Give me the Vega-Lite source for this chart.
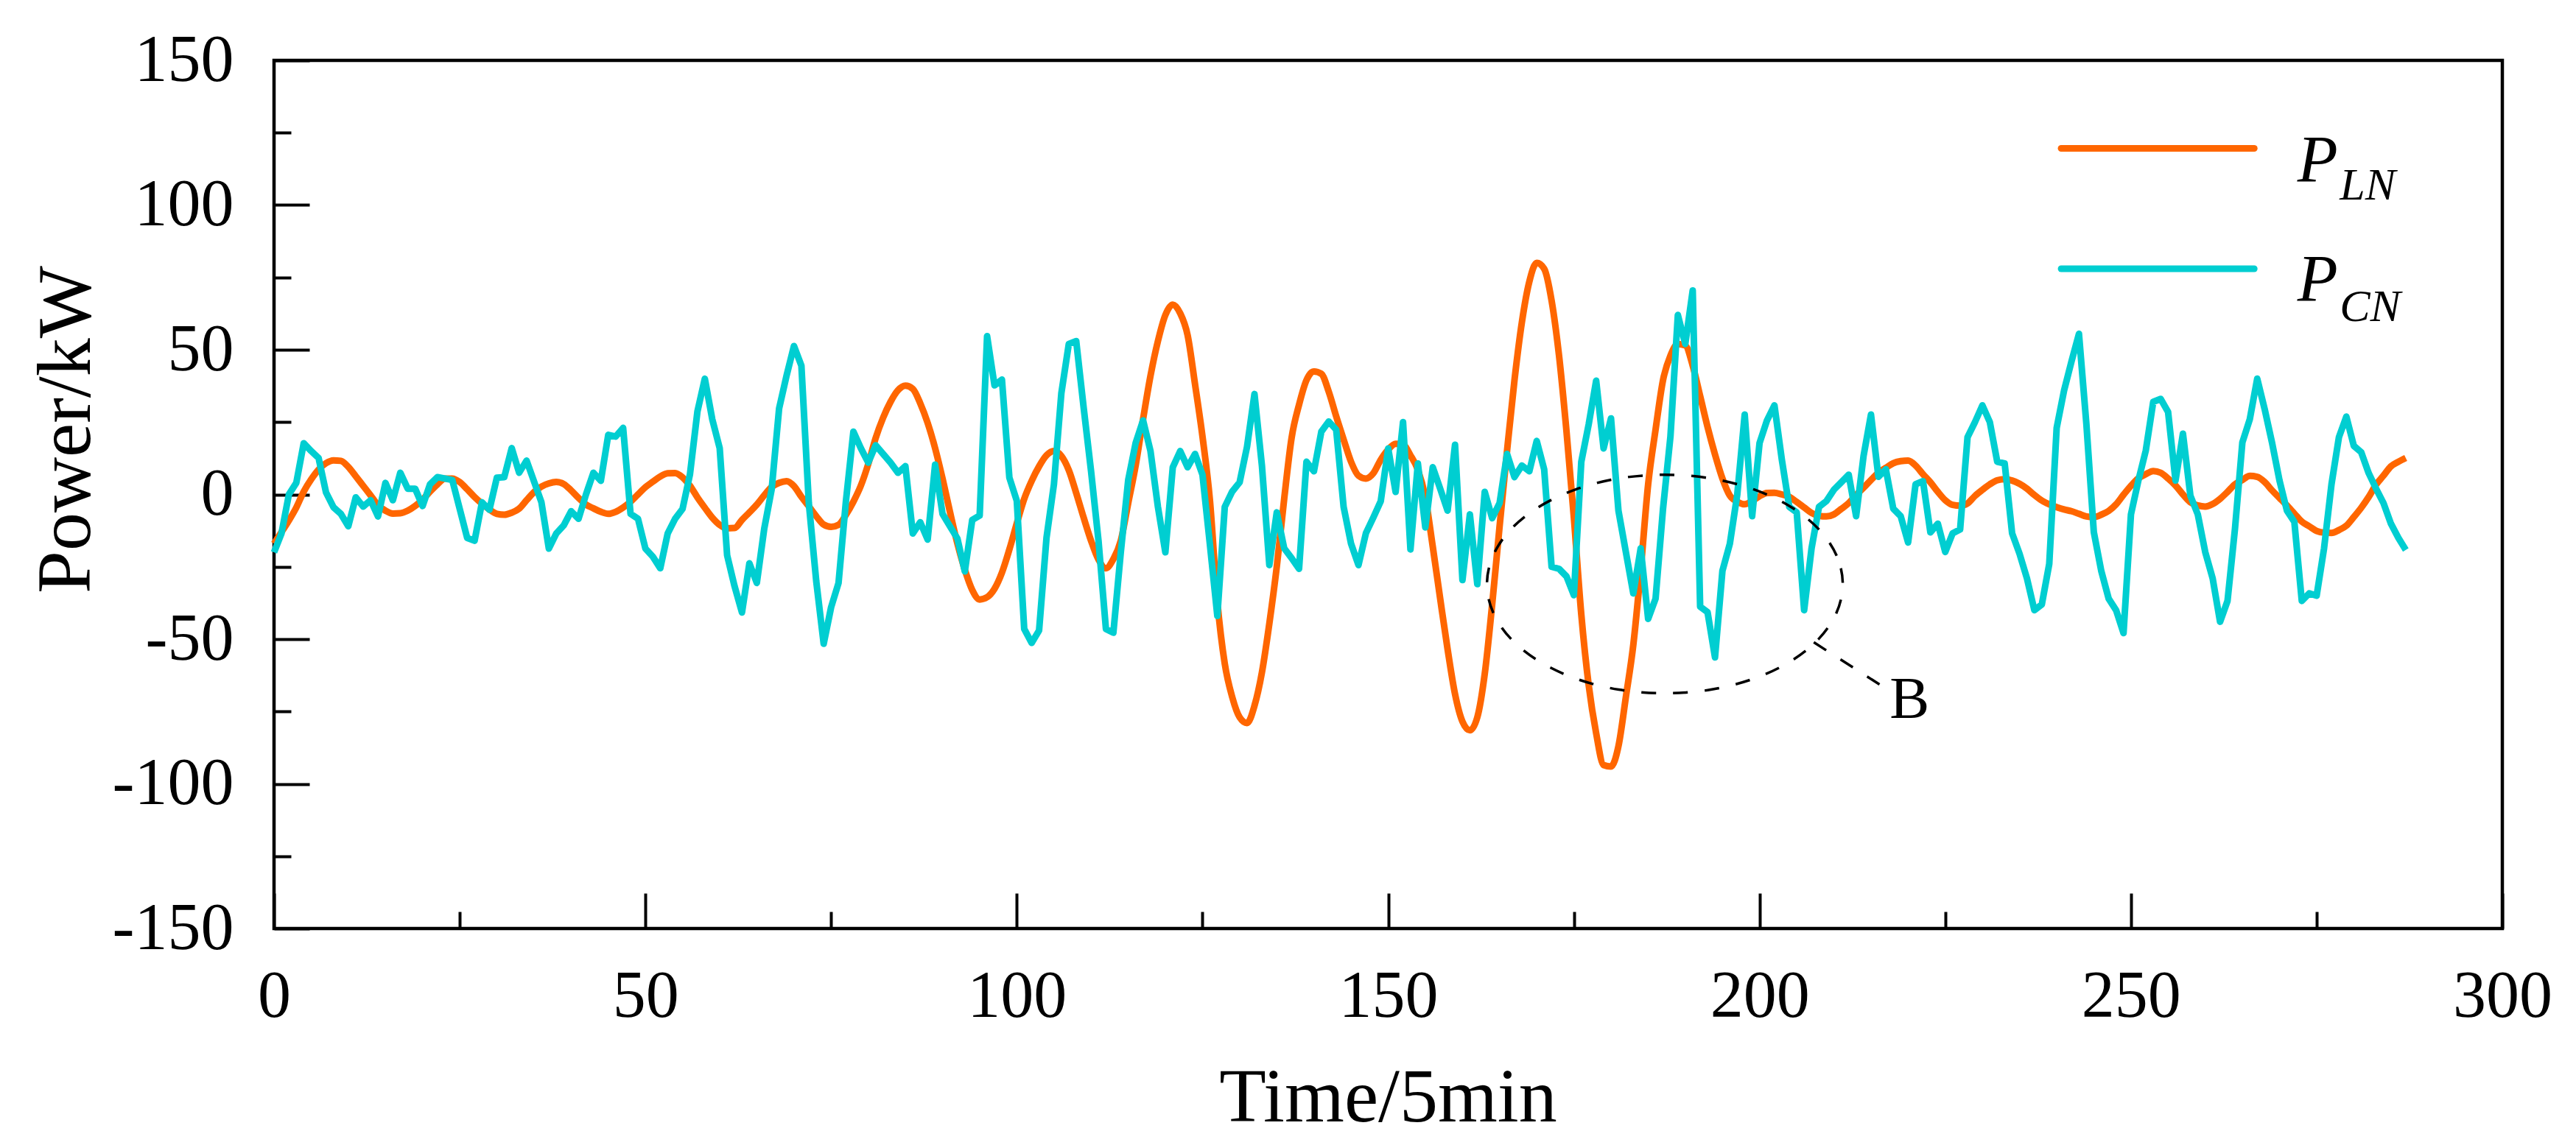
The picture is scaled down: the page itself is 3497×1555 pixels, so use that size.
{
  "$schema": "https://vega.github.io/schema/vega-lite/v6.json",
  "autosize": {"type": "none"},
  "padding": {"left": 372, "top": 82, "right": 100, "bottom": 294},
  "width": 3025,
  "height": 1179,
  "background": "white",
  "datasets": {
    "series": [
      {"t":0,"ln":-17,"cn":-20},{"t":1,"ln":-13,"cn":-13.5},{"t":2,"ln":-9,"cn":0},{"t":3,"ln":-4.5,"cn":4},{"t":4,"ln":1,"cn":17.7},
      {"t":5,"ln":5.2,"cn":15},{"t":6,"ln":8.6,"cn":12.6},{"t":7,"ln":10.8,"cn":0.7},{"t":8,"ln":11.8,"cn":-4.4},{"t":9,"ln":11.6,"cn":-6.7},
      {"t":10,"ln":9.5,"cn":-11},{"t":11,"ln":6.3,"cn":-1},{"t":12,"ln":3,"cn":-4.2},{"t":13,"ln":-0.3,"cn":-2},{"t":14,"ln":-3.7,"cn":-7.6},
      {"t":15,"ln":-5.6,"cn":4},{"t":16,"ln":-6.6,"cn":-2},{"t":17,"ln":-6.5,"cn":7.5},{"t":18,"ln":-5.6,"cn":2},{"t":19,"ln":-4,"cn":2},
      {"t":20,"ln":-1.8,"cn":-4},{"t":21,"ln":1,"cn":3.5},{"t":22,"ln":3.5,"cn":6},{"t":23,"ln":5.5,"cn":5.5},{"t":24,"ln":5.5,"cn":5},
      {"t":25,"ln":4.3,"cn":-5},{"t":26,"ln":1.8,"cn":-15},{"t":27,"ln":-0.9,"cn":-16},{"t":28,"ln":-3.2,"cn":-2.7},{"t":29,"ln":-5.2,"cn":-5.3},
      {"t":30,"ln":-6.7,"cn":5.8},{"t":31,"ln":-7,"cn":6},{"t":32,"ln":-6.3,"cn":16},{"t":33,"ln":-4.9,"cn":7.5},{"t":34,"ln":-2,"cn":11.7},
      {"t":35,"ln":0.8,"cn":4.5},{"t":36,"ln":2.7,"cn":-2.7},{"t":37,"ln":3.8,"cn":-18.7},{"t":38,"ln":4.3,"cn":-13.5},{"t":39,"ln":3.6,"cn":-10.7},
      {"t":40,"ln":1.4,"cn":-5.8},{"t":41,"ln":-1.2,"cn":-8.4},{"t":42,"ln":-3.5,"cn":0},{"t":43,"ln":-4.8,"cn":7.5},{"t":44,"ln":-6,"cn":4.7},
      {"t":45,"ln":-6.7,"cn":20.6},{"t":46,"ln":-6,"cn":20},{"t":47,"ln":-4.5,"cn":23},{"t":48,"ln":-2.5,"cn":-6.7},{"t":49,"ln":0,"cn":-8.4},
      {"t":50,"ln":2.5,"cn":-18.7},{"t":51,"ln":4.4,"cn":-21.5},{"t":52,"ln":6.2,"cn":-25.5},{"t":53,"ln":7.3,"cn":-13.5},{"t":54,"ln":7.4,"cn":-8.4},
      {"t":55,"ln":5.9,"cn":-5},{"t":56,"ln":3,"cn":7},{"t":57,"ln":-1,"cn":28.6},{"t":58,"ln":-4.6,"cn":40},{"t":59,"ln":-8,"cn":26},
      {"t":60,"ln":-10.5,"cn":16},{"t":61,"ln":-11.7,"cn":-21},{"t":62,"ln":-11.6,"cn":-31.7},{"t":63,"ln":-8.8,"cn":-40.8},{"t":64,"ln":-6.2,"cn":-23.8},
      {"t":65,"ln":-3.5,"cn":-30.6},{"t":66,"ln":-0.3,"cn":-11.8},{"t":67,"ln":2.6,"cn":1.8},{"t":68,"ln":4,"cn":29.7},{"t":69,"ln":4.6,"cn":41},
      {"t":70,"ln":2.9,"cn":51.3},{"t":71,"ln":-0.8,"cn":44.5},{"t":72,"ln":-4.1,"cn":-3},{"t":73,"ln":-7.5,"cn":-30},{"t":74,"ln":-10.4,"cn":-51.6},
      {"t":75,"ln":-11.2,"cn":-39},{"t":76,"ln":-10.5,"cn":-30.6},{"t":77,"ln":-7,"cn":-2.2},{"t":78,"ln":-2.5,"cn":21.7},{"t":79,"ln":3,"cn":16},
      {"t":80,"ln":10.5,"cn":11},{"t":81,"ln":19.5,"cn":17},{"t":82,"ln":26.5,"cn":14},{"t":83,"ln":32,"cn":11},{"t":84,"ln":36,"cn":7.5},
      {"t":85,"ln":37.6,"cn":9.8},{"t":86,"ln":36.5,"cn":-13.5},{"t":87,"ln":31.5,"cn":-9.6},{"t":88,"ln":24.7,"cn":-15.6},{"t":89,"ln":16,"cn":10.3},
      {"t":90,"ln":5.5,"cn":-6.7},{"t":91,"ln":-6,"cn":-11},{"t":92,"ln":-16.9,"cn":-15.2},{"t":93,"ln":-26,"cn":-26.6},{"t":94,"ln":-33,"cn":-8.8},
      {"t":95,"ln":-36.3,"cn":-7.3},{"t":96,"ln":-35.5,"cn":54.7},{"t":97,"ln":-32.6,"cn":37.7},{"t":98,"ln":-27,"cn":39.7},{"t":99,"ln":-19,"cn":5.8},
      {"t":100,"ln":-10,"cn":-2.2},{"t":101,"ln":-1.5,"cn":-46.5},{"t":102,"ln":4.7,"cn":-51.3},{"t":103,"ln":9.7,"cn":-47},{"t":104,"ln":13.5,"cn":-15},
      {"t":105,"ln":15,"cn":3.5},{"t":106,"ln":13.3,"cn":35},{"t":107,"ln":8.4,"cn":52},{"t":108,"ln":0.5,"cn":53},{"t":109,"ln":-8,"cn":30},
      {"t":110,"ln":-16,"cn":8},{"t":111,"ln":-22.5,"cn":-16},{"t":112,"ln":-25.5,"cn":-46.5},{"t":113,"ln":-22.3,"cn":-47.8},{"t":114,"ln":-16,"cn":-20},
      {"t":115,"ln":-3,"cn":5},{"t":116,"ln":10,"cn":17.8},{"t":117,"ln":26,"cn":25.6},{"t":118,"ln":41,"cn":15},{"t":119,"ln":53,"cn":-4.3},
      {"t":120,"ln":62,"cn":-20},{"t":121,"ln":65.6,"cn":9.4},{"t":122,"ln":62.6,"cn":15},{"t":123,"ln":55,"cn":9.4},{"t":124,"ln":38,"cn":14},
      {"t":125,"ln":20,"cn":6.8},{"t":126,"ln":-2,"cn":-17.3},{"t":127,"ln":-37,"cn":-42},{"t":128,"ln":-58.5,"cn":-4.3},{"t":129,"ln":-70,"cn":1},
      {"t":130,"ln":-77,"cn":4.2},{"t":131,"ln":-79,"cn":16.5},{"t":132,"ln":-73,"cn":34.7},{"t":133,"ln":-61.5,"cn":10},{"t":134,"ln":-44.6,"cn":-24.4},
      {"t":135,"ln":-25,"cn":-6.2},{"t":136,"ln":-1.5,"cn":-18.6},{"t":137,"ln":19.6,"cn":-22},{"t":138,"ln":31,"cn":-25.7},{"t":139,"ln":39.5,"cn":11.3},
      {"t":140,"ln":42.5,"cn":8},{"t":141,"ln":41.7,"cn":21.7},{"t":142,"ln":35.5,"cn":25.2},{"t":143,"ln":27,"cn":22.4},{"t":144,"ln":19,"cn":-4.3},
      {"t":145,"ln":11.3,"cn":-17},{"t":146,"ln":6.5,"cn":-24.4},{"t":147,"ln":5.5,"cn":-13.4},{"t":148,"ln":7.3,"cn":-8},{"t":149,"ln":12,"cn":-2.3},
      {"t":150,"ln":15.5,"cn":15.9},{"t":151,"ln":17.5,"cn":0.9},{"t":152,"ln":17.2,"cn":25},{"t":153,"ln":13.5,"cn":-19},{"t":154,"ln":8.5,"cn":10.7},
      {"t":155,"ln":-1,"cn":-11.4},{"t":156,"ln":-18,"cn":9.4},{"t":157,"ln":-36,"cn":2},{"t":158,"ln":-53.5,"cn":-5.6},{"t":159,"ln":-69,"cn":17.2},
      {"t":160,"ln":-78.5,"cn":-29.6},{"t":161,"ln":-81.5,"cn":-6.9},{"t":162,"ln":-77,"cn":-31},{"t":163,"ln":-62,"cn":0.9},{"t":164,"ln":-38,"cn":-8.2},
      {"t":165,"ln":-11,"cn":-3},{"t":166,"ln":15,"cn":14},{"t":167,"ln":39.4,"cn":6},{"t":168,"ln":59.5,"cn":10},{"t":169,"ln":73.5,"cn":8},
      {"t":170,"ln":80,"cn":18.5},{"t":171,"ln":78,"cn":8.7},{"t":172,"ln":67,"cn":-25},{"t":173,"ln":48,"cn":-25.7},{"t":174,"ln":22,"cn":-28.3},
      {"t":175,"ln":-8,"cn":-34.8},{"t":176,"ln":-41.5,"cn":11.3},{"t":177,"ln":-66,"cn":24.3},{"t":178,"ln":-82.5,"cn":39.3},{"t":179,"ln":-93.5,"cn":15.9},
      {"t":180,"ln":-94,"cn":26.3},{"t":181,"ln":-87,"cn":-5.6},{"t":182,"ln":-70,"cn":-19.9},{"t":183,"ln":-52,"cn":-34.2},{"t":184,"ln":-26,"cn":-18.6},
      {"t":185,"ln":3.5,"cn":-43},{"t":186,"ln":22.4,"cn":-36},{"t":187,"ln":39.5,"cn":-5},{"t":188,"ln":48,"cn":20},{"t":189,"ln":52,"cn":62},
      {"t":190,"ln":51.5,"cn":52},{"t":191,"ln":44.5,"cn":70.5},{"t":192,"ln":34,"cn":-38.8},{"t":193,"ln":23.3,"cn":-40.7},{"t":194,"ln":13.8,"cn":-56.3},
      {"t":195,"ln":5.5,"cn":-26.4},{"t":196,"ln":-0.4,"cn":-17},{"t":197,"ln":-2.5,"cn":0},{"t":198,"ln":-3.4,"cn":27.6},{"t":199,"ln":-2.3,"cn":-7.5},
      {"t":200,"ln":-0.6,"cn":17.8},{"t":201,"ln":0.5,"cn":25.6},{"t":202,"ln":0.6,"cn":30.8},{"t":203,"ln":0,"cn":12},{"t":204,"ln":-0.8,"cn":-4.3},
      {"t":205,"ln":-2.6,"cn":-6.2},{"t":206,"ln":-4.5,"cn":-40},{"t":207,"ln":-6.4,"cn":-18.6},{"t":208,"ln":-7.4,"cn":-4.3},{"t":209,"ln":-7.6,"cn":-2.3},
      {"t":210,"ln":-6.9,"cn":1.6},{"t":211,"ln":-5,"cn":4.2},{"t":212,"ln":-3,"cn":6.8},{"t":213,"ln":-0.2,"cn":-7.5},{"t":214,"ln":2.3,"cn":13.3},
      {"t":215,"ln":5,"cn":27.6},{"t":216,"ln":7.5,"cn":6.1},{"t":217,"ln":9.2,"cn":8.7},{"t":218,"ln":10.8,"cn":-4.9},{"t":219,"ln":11.5,"cn":-7.5},
      {"t":220,"ln":11.7,"cn":-16.6},{"t":221,"ln":10,"cn":3.5},{"t":222,"ln":7,"cn":4.6},{"t":223,"ln":4.2,"cn":-13.1},{"t":224,"ln":0.9,"cn":-10.1},
      {"t":225,"ln":-2,"cn":-19.9},{"t":226,"ln":-3.6,"cn":-13.4},{"t":227,"ln":-3.9,"cn":-12.1},{"t":228,"ln":-3.1,"cn":19.8},{"t":229,"ln":-0.5,"cn":25},
      {"t":230,"ln":1.6,"cn":30.8},{"t":231,"ln":3.5,"cn":25},{"t":232,"ln":4.9,"cn":11.3},{"t":233,"ln":5.3,"cn":10.7},{"t":234,"ln":4.8,"cn":-13.4},
      {"t":235,"ln":3.7,"cn":-20.5},{"t":236,"ln":2,"cn":-29},{"t":237,"ln":-0.2,"cn":-40},{"t":238,"ln":-2.1,"cn":-38},{"t":239,"ln":-3.4,"cn":-24},
      {"t":240,"ln":-4.4,"cn":23},{"t":241,"ln":-5.2,"cn":36},{"t":242,"ln":-5.8,"cn":46},{"t":243,"ln":-6.7,"cn":55.5},{"t":244,"ln":-7.6,"cn":24.3},
      {"t":245,"ln":-7.8,"cn":-13},{"t":246,"ln":-7,"cn":-26.4},{"t":247,"ln":-5.7,"cn":-36},{"t":248,"ln":-3.4,"cn":-40},{"t":249,"ln":-0.1,"cn":-47.9},
      {"t":250,"ln":3,"cn":-6.9},{"t":251,"ln":5.6,"cn":4.8},{"t":252,"ln":7,"cn":15.2},{"t":253,"ln":8.1,"cn":32},{"t":254,"ln":7.5,"cn":33},
      {"t":255,"ln":5.5,"cn":28.5},{"t":256,"ln":3.1,"cn":4.8},{"t":257,"ln":0,"cn":21},{"t":258,"ln":-2.7,"cn":-0.4},{"t":259,"ln":-3.8,"cn":-6.9},
      {"t":260,"ln":-4.2,"cn":-19.9},{"t":261,"ln":-3.3,"cn":-29},{"t":262,"ln":-1.5,"cn":-44},{"t":263,"ln":0.9,"cn":-36.8},{"t":264,"ln":3.5,"cn":-12},
      {"t":265,"ln":5,"cn":18},{"t":266,"ln":6.4,"cn":26},{"t":267,"ln":6.1,"cn":40},{"t":268,"ln":4.3,"cn":29.5},{"t":269,"ln":1.4,"cn":17.8},
      {"t":270,"ln":-1.2,"cn":4.8},{"t":271,"ln":-3.8,"cn":-5.6},{"t":272,"ln":-6.6,"cn":-9.5},{"t":273,"ln":-9.4,"cn":-36.8},{"t":274,"ln":-11,"cn":-34.2},
      {"t":275,"ln":-12.6,"cn":-35},{"t":276,"ln":-13.2,"cn":-18.6},{"t":277,"ln":-13.3,"cn":3.5},{"t":278,"ln":-12.3,"cn":19.8},{"t":279,"ln":-10.8,"cn":26.9},
      {"t":280,"ln":-7.8,"cn":16.8},{"t":281,"ln":-4.6,"cn":14.6},{"t":282,"ln":-0.9,"cn":7.4},{"t":283,"ln":3.4,"cn":2},{"t":284,"ln":6.5,"cn":-3},
      {"t":285,"ln":9.7,"cn":-10.1},{"t":286,"ln":11.3,"cn":-15},{"t":287,"ln":12.6,"cn":-19.2}
    ],
    "ellipse": [
      {"k":0,"t":211.2,"v":-30.95},{"k":1,"t":210.38,"v":-21.17},{"k":2,"t":207.99,"v":-12.05},{"k":3,"t":204.18,"v":-4.25},
      {"k":4,"t":199.23,"v":1.75},{"k":5,"t":193.45,"v":5.55},{"k":6,"t":187.25,"v":6.8},{"k":7,"t":181.05,"v":5.55},
      {"k":8,"t":175.27,"v":1.75},{"k":9,"t":170.32,"v":-4.25},{"k":10,"t":166.51,"v":-12.05},{"k":11,"t":164.12,"v":-21.17},
      {"k":12,"t":163.3,"v":-30.95},{"k":13,"t":164.12,"v":-40.73},{"k":14,"t":166.51,"v":-49.85},{"k":15,"t":170.32,"v":-57.65},
      {"k":16,"t":175.27,"v":-63.65},{"k":17,"t":181.05,"v":-67.45},{"k":18,"t":187.25,"v":-68.7},{"k":19,"t":193.45,"v":-67.45},
      {"k":20,"t":199.23,"v":-63.65},{"k":21,"t":204.18,"v":-57.65},{"k":22,"t":207.99,"v":-49.85},{"k":23,"t":210.38,"v":-40.73}
    ]
  },
  "layer": [
    {
      "data": {"name": "series"},
      "mark": {"type": "line", "color": "#FF6600", "strokeWidth": 9, "interpolate": "monotone", "strokeJoin": "round"},
      "encoding": {
        "x": {
          "field": "t", "type": "quantitative", "title": "Time/5min",
          "scale": {"domain": [0, 300], "nice": false, "zero": false},
          "axis": {
            "values": [0, 25, 50, 75, 100, 125, 150, 175, 200, 225, 250, 275, 300],
            "labelExpr": "datum.value % 50 === 0 ? '' + datum.value : ''",
            "tickSize": {"condition": {"test": "datum.value % 50 === 0", "value": -48}, "value": -23},
            "labelPadding": 96,
            "labelFlush": false,
            "labelOverlap": false,
            "labelBaseline": "top",
            "titleX": 1512,
            "titleY": 261,
            "titleAlign": "center",
            "titleBaseline": "alphabetic"
          }
        },
        "y": {
          "field": "ln", "type": "quantitative", "title": "Power/kW",
          "scale": {"domain": [-150, 150], "nice": false, "zero": false},
          "axis": {
            "values": [-150, -125, -100, -75, -50, -25, 0, 25, 50, 75, 100, 125, 150],
            "labelExpr": "datum.value % 50 === 0 ? '' + datum.value : ''",
            "tickSize": {"condition": {"test": "datum.value % 50 === 0", "value": -48}, "value": -23},
            "labelPadding": 103,
            "labelFlush": false,
            "labelOverlap": false,
            "titleX": -251,
            "titleY": 501,
            "titleAngle": 270,
            "titleAlign": "center",
            "titleBaseline": "alphabetic"
          }
        }
      }
    },
    {
      "data": {"name": "series"},
      "mark": {"type": "line", "color": "#00CED1", "strokeWidth": 9, "strokeJoin": "round"},
      "encoding": {
        "x": {"field": "t", "type": "quantitative", "title": "Time/5min", "scale": {"domain": [0, 300], "nice": false, "zero": false}},
        "y": {"field": "cn", "type": "quantitative", "title": "Power/kW", "scale": {"domain": [-150, 150], "nice": false, "zero": false}}
      }
    },
    {
      "data": {"name": "ellipse"},
      "mark": {"type": "line", "color": "black", "strokeWidth": 3.5, "strokeDash": [20, 23], "interpolate": "cardinal-closed"},
      "encoding": {
        "x": {"field": "t", "type": "quantitative", "title": "Time/5min", "scale": {"domain": [0, 300], "nice": false, "zero": false}},
        "y": {"field": "v", "type": "quantitative", "title": "Power/kW", "scale": {"domain": [-150, 150], "nice": false, "zero": false}},
        "order": {"field": "k", "type": "quantitative"}
      }
    },
    {
      "data": {"values": [{}]},
      "mark": {"type": "rule", "color": "black", "strokeWidth": 3.5, "strokeDash": [20, 23]},
      "encoding": {
        "x": {"datum": 207.3, "type": "quantitative", "title": "Time/5min", "scale": {"domain": [0, 300], "nice": false, "zero": false}},
        "x2": {"datum": 217.2},
        "y": {"datum": -51.1, "type": "quantitative", "title": "Power/kW", "scale": {"domain": [-150, 150], "nice": false, "zero": false}},
        "y2": {"datum": -67.4}
      }
    },
    {
      "data": {"values": [{}]},
      "mark": {"type": "text", "text": "B", "font": "Liberation Serif", "fontSize": 81, "align": "left", "baseline": "alphabetic", "color": "black"},
      "encoding": {
        "x": {"datum": 217.5, "type": "quantitative", "title": "Time/5min", "scale": {"domain": [0, 300], "nice": false, "zero": false}},
        "y": {"datum": -77.1, "type": "quantitative", "title": "Power/kW", "scale": {"domain": [-150, 150], "nice": false, "zero": false}}
      }
    },
    {
      "data": {"values": [{}]},
      "mark": {"type": "rule", "color": "#FF6600", "strokeWidth": 9, "strokeCap": "round"},
      "encoding": {
        "x": {"datum": 240.6, "type": "quantitative", "title": "Time/5min", "scale": {"domain": [0, 300], "nice": false, "zero": false}},
        "x2": {"datum": 266.6},
        "y": {"datum": 119.6, "type": "quantitative", "title": "Power/kW", "scale": {"domain": [-150, 150], "nice": false, "zero": false}}
      }
    },
    {
      "data": {"values": [{}]},
      "mark": {"type": "rule", "color": "#00CED1", "strokeWidth": 9, "strokeCap": "round"},
      "encoding": {
        "x": {"datum": 240.6, "type": "quantitative", "title": "Time/5min", "scale": {"domain": [0, 300], "nice": false, "zero": false}},
        "x2": {"datum": 266.6},
        "y": {"datum": 78, "type": "quantitative", "title": "Power/kW", "scale": {"domain": [-150, 150], "nice": false, "zero": false}}
      }
    },
    {
      "data": {"values": [{}]},
      "mark": {"type": "text", "text": "P", "font": "Liberation Serif", "fontStyle": "italic", "fontSize": 90, "align": "left", "baseline": "alphabetic", "color": "black"},
      "encoding": {
        "x": {"datum": 272.4, "type": "quantitative", "title": "Time/5min", "scale": {"domain": [0, 300], "nice": false, "zero": false}},
        "y": {"datum": 108.1, "type": "quantitative", "title": "Power/kW", "scale": {"domain": [-150, 150], "nice": false, "zero": false}}
      }
    },
    {
      "data": {"values": [{}]},
      "mark": {"type": "text", "text": "LN", "font": "Liberation Serif", "fontStyle": "italic", "fontSize": 62, "align": "left", "baseline": "alphabetic", "color": "black"},
      "encoding": {
        "x": {"datum": 278.1, "type": "quantitative", "title": "Time/5min", "scale": {"domain": [0, 300], "nice": false, "zero": false}},
        "y": {"datum": 101.8, "type": "quantitative", "title": "Power/kW", "scale": {"domain": [-150, 150], "nice": false, "zero": false}}
      }
    },
    {
      "data": {"values": [{}]},
      "mark": {"type": "text", "text": "P", "font": "Liberation Serif", "fontStyle": "italic", "fontSize": 90, "align": "left", "baseline": "alphabetic", "color": "black"},
      "encoding": {
        "x": {"datum": 272.4, "type": "quantitative", "title": "Time/5min", "scale": {"domain": [0, 300], "nice": false, "zero": false}},
        "y": {"datum": 66.7, "type": "quantitative", "title": "Power/kW", "scale": {"domain": [-150, 150], "nice": false, "zero": false}}
      }
    },
    {
      "data": {"values": [{}]},
      "mark": {"type": "text", "text": "CN", "font": "Liberation Serif", "fontStyle": "italic", "fontSize": 62, "align": "left", "baseline": "alphabetic", "color": "black"},
      "encoding": {
        "x": {"datum": 278.1, "type": "quantitative", "title": "Time/5min", "scale": {"domain": [0, 300], "nice": false, "zero": false}},
        "y": {"datum": 60, "type": "quantitative", "title": "Power/kW", "scale": {"domain": [-150, 150], "nice": false, "zero": false}}
      }
    }
  ],
  "config": {
    "view": {"stroke": "black", "strokeWidth": 4.5},
    "axis": {
      "domain": false,
      "grid": false,
      "tickColor": "black",
      "tickWidth": 4,
      "labelFont": "Liberation Serif",
      "labelFontSize": 90,
      "labelColor": "black",
      "titleFont": "Liberation Serif",
      "titleFontSize": 104,
      "titleFontWeight": "normal",
      "titleColor": "black"
    }
  }
}
